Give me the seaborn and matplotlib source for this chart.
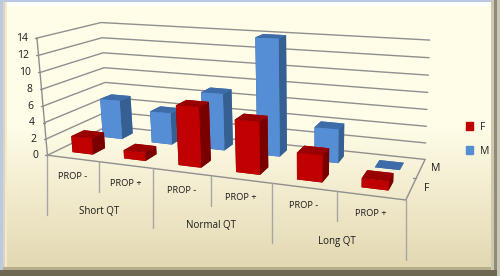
import numpy as np
import matplotlib
matplotlib.use('Agg')
import matplotlib.pyplot as plt
from matplotlib.patches import Patch
from mpl_toolkits.mplot3d import Axes3D
import seaborn as sns

# values
prop_labels = ['PROP -', 'PROP +', 'PROP -', 'PROP +', 'PROP -', 'PROP +']
group_labels = ['Short QT', 'Normal QT', 'Long QT']
series_names = ['F', 'M']
f_values = [2, 1, 7, 6, 3, 1]
m_values = [5, 4, 7, 14, 4, 0]
z_ticks = [0, 2, 4, 6, 8, 10, 12, 14]

sns.set_theme(style='white')
plt.rcParams['font.family'] = ['Open Sans', 'DejaVu Sans']
red_faces = sns.color_palette(['#c00000', '#990000', '#7a0000'])
blue_faces = sns.color_palette(['#558ed5', '#3d6ca8', '#376092'])

# camera fitted to where the chart corners sit in the picture (x, y, z) -> pixel
anchors = [((0, 0, 0), (47, 155)), ((1, 0, 0), (98.5, 161)), ((2, 0, 0), (153.5, 168)),
           ((3, 0, 0), (211, 176)), ((4, 0, 0), (272, 184)), ((5, 0, 0), (337, 192)),
           ((6, 0, 0), (406, 200)), ((6, 2, 0), (425, 158)), ((0, 2, 0), (109, 127)),
           ((0, 0, 14), (38, 38)), ((0, 2, 14), (100, 22)), ((6, 2, 14), (430, 40.5)),
           ((6, 2, 12), (429, 58))]
rows, rhs = [], []
for (x, y, z), (u, v) in anchors:
    rows.append([x, y, z, 1, 0, 0, 0, 0, -u * x, -u * y, -u * z])
    rows.append([0, 0, 0, 0, x, y, z, 1, -v * x, -v * y, -v * z])
    rhs += [u, v]
p = np.linalg.lstsq(np.array(rows, float), np.array(rhs, float), rcond=None)[0]
cam = np.array([p[:4], p[4:8], [0, 0, 0, -1], [p[8], p[9], p[10], 1]])


def to_px(x, y, z):
    h = cam @ np.array([x, y, z, 1.0])
    return h[0] / h[3], h[1] / h[3]


def line_3d(axis, points, **kw):
    pts = [to_px(*q) for q in points]
    axis.plot([q[0] for q in pts], [q[1] for q in pts], **kw)


fig = plt.figure(figsize=(5, 2.76), dpi=100)

# background, frame and the flat labels
bg = fig.add_axes([0, 0, 1, 1], zorder=0)
shade = np.ones((276, 1, 3))
top, bottom = np.array([255, 253, 232]) / 255, np.array([226, 215, 176]) / 255
for row in range(276):
    t = max(0, (row - 125) / 145)
    shade[row, 0] = top + (bottom - top) * t
bg.imshow(shade, extent=(0, 500, 276, 0), aspect='auto')
bg.set_xlim(0, 500)
bg.set_ylim(276, 0)
bg.axis('off')
bg.fill_between([0, 500], 0, 2, color='#b9c9e6', lw=0)
bg.fill_between([0, 500], 2, 6, color='#ffffff', lw=0)
bg.fill_between([0, 3], 0, 276, color='#bccae0', lw=0)
bg.fill_between([3, 5], 2, 276, color='#d9d4c4', lw=0)
bg.fill_between([5, 7], 2, 276, color='#f3e9cd', lw=0)
bg.fill_between([3, 500], 267, 270, color='#b5ac8c', lw=0)
bg.fill_between([0, 500], 270, 276, color='#6e6853', lw=0)
bg.fill_between([491, 494], 0, 270, color='#cfc8ac', lw=0)
bg.fill_between([494, 497], 0, 270, color='#8f8c7c', lw=0)
bg.fill_between([497, 500], 0, 276, color='#c9c6b5', lw=0)

axis_gray = '#8f8f8f'
for val in z_ticks:
    line_3d(bg, [(0, 0, val), (0, 2, val), (6, 2, val)], color=axis_gray, lw=1)
line_3d(bg, [(0, 0, 0), (0, 0, 14)], color=axis_gray, lw=1)
line_3d(bg, [(0, 0, 0), (6, 0, 0), (6, 2, 0)], color=axis_gray, lw=1)

for i in range(7):
    px, py = to_px(i, 0, 0)
    length = 60 if i % 2 == 0 else 30
    bg.plot([px, px], [py, py + length], color='#a6a6a6', lw=1)
for i, label in enumerate(prop_labels):
    px, py = to_px(i + 0.5, 0, 0)
    bg.text(px, py + 18, label, ha='center', va='center', fontsize=6.7, color='#1a1a1a')
for i, label in enumerate(group_labels):
    px, py = to_px(2 * i + 1, 0, 0)
    bg.text(px, py + 50, label, ha='center', va='center', fontsize=7, color='#1a1a1a')
for val in z_ticks:
    px, py = to_px(0, 0, val)
    bg.plot([px - 2, px], [py, py], color=axis_gray, lw=1)
    bg.text(px - 9.5, py, str(val), ha='right', va='center', fontsize=7.5, color='#1a1a1a')
for j, name in enumerate(series_names):
    px, py = to_px(6, j + 0.5, 0)
    bg.text(px + 15, py, name, ha='center', va='center', fontsize=7.5, color='#1a1a1a')
px, py = to_px(6, 1, 0)
bg.plot([px - 3, px], [py, py], color=axis_gray, lw=1)

# 3D axes that use the fitted camera instead of view_init
ax = fig.add_axes([0, 0, 1, 1], projection='3d', computed_zorder=False, zorder=1)
ax.patch.set_alpha(0)
ax.set_axis_off()
ax.get_proj = lambda: cam
ax.apply_aspect = lambda position=None: None
ax.viewLim.intervalx = (0, 500)
ax.viewLim.intervaly = (276, 0)

bar_w, bar_d = 0.4, 0.4
xpos = np.arange(6) + (1 - bar_w) / 2
for j, (values, faces) in enumerate([(m_values, blue_faces), (f_values, red_faces)]):
    front, topc, side = faces
    cols = [topc, topc, front, front, side, side] * 6
    y0 = (1 if j == 0 else 0) + (1 - bar_d) / 2
    ax.bar3d(xpos, np.full(6, y0), np.zeros(6), bar_w, bar_d, values, color=cols, shade=False,
             zorder=2 + j, lw=0)

fig.legend(handles=[Patch(color=red_faces[0], label='F'), Patch(color=blue_faces[0], label='M')],
           loc='center', bbox_to_anchor=(0.955, 0.496), frameon=False, fontsize=7.5,
           handlelength=0.7, handleheight=0.7, handletextpad=0.6, labelspacing=1.25)

fig.savefig('out.png', dpi=100)
